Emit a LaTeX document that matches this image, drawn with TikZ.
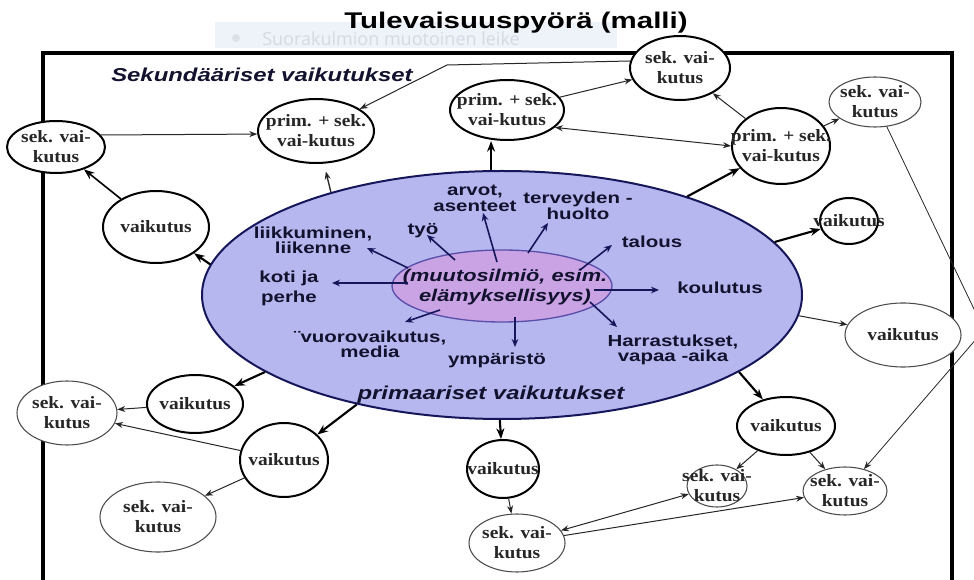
\documentclass[tikz,border=0pt]{standalone}
\usepackage{fontspec}
\usetikzlibrary{shapes.geometric,arrows.meta,calc}

% Fonts: bold sans for labels, bold serif inside the bubbles
\newfontfamily\titlefont[FakeStretch=1.3]{Liberation Sans}
\newfontfamily\labfont[FakeStretch=1.28]{Liberation Sans}
\newfontfamily\bubfont[FakeStretch=1.12]{Liberation Serif}
\newfontfamily\ghostfont{Open Sans}

\definecolor{wheelfill}{HTML}{B7B7F0}
\definecolor{corefill}{HTML}{C9A3E4}
\definecolor{wheelline}{HTML}{16165A}
\definecolor{coreline}{HTML}{5A4FA8}
\definecolor{navytext}{HTML}{12122E}
\definecolor{ghostband}{HTML}{EEF3FA}
\definecolor{ghosttext}{HTML}{D3DAE3}

\tikzset{
  bubthick/.style={ellipse, draw=black, line width=1.5pt, fill=white, inner sep=0pt},
  bubthin/.style={ellipse, draw=black!70, line width=0.8pt, fill=white, inner sep=0pt},
  bubtext/.style={font=\bubfont\bfseries\fontsize{13}{15}\selectfont,
                  text=black!85, align=center, inner sep=0pt},
  lab/.style={font=\labfont\bfseries\fontsize{12}{12}\selectfont,
              text=navytext, align=center, inner sep=0pt},
  heading/.style={font=\labfont\bfseries\itshape\fontsize{14}{16}\selectfont,
                  text=navytext, inner sep=0pt},
  conn/.style={line width=0.75pt, draw=black!85, -{Stealth[length=6pt,width=4.5pt]}},
  connthick/.style={line width=1.6pt, draw=black, -{Stealth[length=8pt,width=6pt]}},
  conndbl/.style={line width=0.75pt, draw=black!85,
                  {Stealth[length=6pt,width=4.5pt]}-{Stealth[length=6pt,width=4.5pt]}},
  inarrow/.style={line width=1.2pt, draw=wheelline, -{Stealth[length=6pt,width=5pt]}},
}

% \bubble[style]{name}{x}{y}{rx}{ry}{text}: fixed-size ellipse with its text on top
\newcommand\bubble[7][bubthick]{%
  \node[#1, minimum width=#5*1.5pt, minimum height=#6*1.5pt] (#2) at (#3,#4) {};
  \node[bubtext] (#2t) at (#2) {#7};}

\begin{document}
\begin{tikzpicture}[x=0.75pt, y=-0.75pt]
\useasboundingbox (0,0) rectangle (974,580);

% outer frame
\draw[line width=3pt] (43,53) rectangle (952,600);

% pale pasted band behind the title
\node[fill=ghostband, minimum width=402*0.75pt, minimum height=26*0.75pt, inner sep=0pt]
  (band) at (416,35) {};
\fill[ghosttext!80] (236,38) circle (4);
\node[font=\ghostfont\fontsize{13.5}{16}\selectfont, text=ghosttext, anchor=base west, inner sep=0pt]
  (bandtext) at (262,46) {Suorakulmion muotoinen leike};

% title
\node[font=\titlefont\bfseries\fontsize{17}{20}\selectfont, anchor=base, inner sep=0pt]
  (title) at (516,29) {Tulevaisuuspyörä (malli)};

\node[heading] (sekhead) at (262,75) {Sekundääriset vaikutukset};

% the wheel
\node[ellipse, draw=wheelline, line width=1.5pt, fill=wheelfill,
      minimum width=600*0.75pt, minimum height=248*0.75pt, inner sep=0pt] (big) at (502,295) {};
\node[ellipse, draw=coreline, line width=1pt, fill=corefill,
      minimum width=220*0.75pt, minimum height=72*0.75pt, inner sep=0pt] (inner) at (502,286) {};
\node[font=\labfont\bfseries\itshape\fontsize{12.75}{14.5}\selectfont, text=navytext,
      align=center, inner sep=0pt] (core) at (505,287)
  {(muutosilmiö, esim.\\elämyksellisyys)};

\node[heading] (primhead) at (491,395) {primaariset vaikutukset};

% themes inside the wheel
\node[lab] (arvot) at (475,198) {arvot,\\asenteet};
\node[lab] (terv) at (578,206) {terveyden -\\huolto};
\node[lab] (tyo) at (423,231) {työ};
\node[lab, font=\labfont\bfseries\fontsize{12}{11.25}\selectfont] (liik) at (313,240) {liikkuminen,\\liikenne};
\node[lab, font=\labfont\bfseries\fontsize{12}{15}\selectfont] (koti) at (289,288) {koti ja\\perhe};
\node[lab, font=\labfont\bfseries\fontsize{12}{11}\selectfont] (vuoro) at (370,344) {¨vuorovaikutus,\\media};
\node[lab] (ymp) at (497,360) {ympäristö};
\node[lab] (talous) at (652,242) {talous};
\node[lab] (koulu) at (720,288) {koulutus};
\node[lab, font=\labfont\bfseries\fontsize{12}{10.5}\selectfont] (harr) at (673,350) {Harrastukset,\\vapaa -aika};

% arrows from the core to the themes
\coordinate (s1) at (497,262);  \coordinate (e1) at (483,213);
\coordinate (s2) at (528,253);  \coordinate (e2) at (548,223);
\coordinate (s3) at (580,270);  \coordinate (e3) at (612,245);
\coordinate (s4) at (594,290);  \coordinate (e4) at (659,290);
\coordinate (s5) at (590,302);  \coordinate (e5) at (617,327);
\coordinate (s6) at (515,317);  \coordinate (e6) at (515,347);
\coordinate (s7) at (440,310);  \coordinate (e7) at (405,322);
\coordinate (s8) at (408,283);  \coordinate (e8) at (332,283);
\coordinate (s9) at (408,268);  \coordinate (e9) at (367,248);
\coordinate (s10) at (455,260); \coordinate (e10) at (427,235);
\foreach \i in {1,...,10} \draw[inarrow] (s\i) -- (e\i);

% effect bubbles
\bubble{n1}{56}{147}{49}{26}{sek. vai-\\kutus}
\bubble{n2}{316}{131}{58}{32}{prim. + sek.\\vai-kutus}
\bubble{n3}{507}{110}{57}{30}{prim. + sek.\\vai-kutus}
\bubble{n4}{680}{68}{50}{32}{sek. vai-\\kutus}
\bubble[bubthin]{n5}{875}{102}{46}{25}{sek. vai-\\kutus}
\bubble{n6}{781}{146}{49}{38}{prim. + sek.\\vai-kutus}
\bubble{n7}{156}{227}{53}{36}{vaikutus}
\bubble{n8}{849}{221}{29}{23}{vaikutus}
\bubble[bubthin]{n9}{903}{335}{58}{32}{vaikutus}
\bubble{n10}{195}{404}{48}{29}{vaikutus}
\bubble[bubthin]{n11}{67}{413}{50}{32}{sek. vai-\\kutus}
\bubble{n12}{284}{460}{44}{37}{vaikutus}
\bubble[bubthin]{n13}{158}{517}{58}{35}{sek. vai-\\kutus}
\bubble{n14}{503}{469}{36}{29}{vaikutus}
\bubble[bubthin]{n15}{517}{543}{48}{29}{sek. vai-\\kutus}
\bubble{n16}{786}{426}{49}{29}{vaikutus}
\bubble[bubthin]{n17}{717}{486}{30}{21}{sek. vai-\\kutus}
\bubble[bubthin]{n18}{845}{491}{42}{24}{sek. vai-\\kutus}

% primary effects leaving the wheel
\draw[conn, line width=1pt, shorten >=6pt] (big.149) -- (n2);
\draw[connthick] (big.95.5) -- (big.95.5 |- n3.south);
\draw[connthick] (big.28) -- (n6);
\draw[connthick] (big.11) -- (n8);
\draw[conn] (big.-4) -- (n9);
\draw[connthick] (big.-18.5) -- (n16);
\draw[connthick] (big.-91) -- (n14);
\draw[connthick] (big.-143) -- (n12);
\draw[connthick] (big.-162) -- (n10);
\draw[connthick] (big.174.7) -- (n7);

% secondary effects
\coordinate (bend) at (447,65);
\coordinate (apex) at (984,330);
\draw[conn] (n1.15) -- (n2.183);
\draw[connthick, line width=1.2pt] (n7) -- (n1);
\draw[conn] (n4.172) -- (bend) -- (n2);
\draw[conn] (n3) -- (n4);
\draw[conndbl] (n3.-20) -- (n6.west);
\draw[conn] (n6) -- (n4);
\draw[conn] (n6) -- (n5);
\draw[conn, line width=0.6pt] (n5) -- (apex) -- (n18);
\draw[conn] (n10) -- (n11);
\draw[conn] (n12) -- (n11);
\draw[conn] (n12) -- (n13);
\draw[conn] (n14) -- (n15);
\draw[conndbl] (n15) -- (n17);
\draw[conn] (n15) -- (n18);
\draw[conn] (n16) -- (n17);
\draw[conn] (n16) -- (n18);
\end{tikzpicture}
\end{document}
